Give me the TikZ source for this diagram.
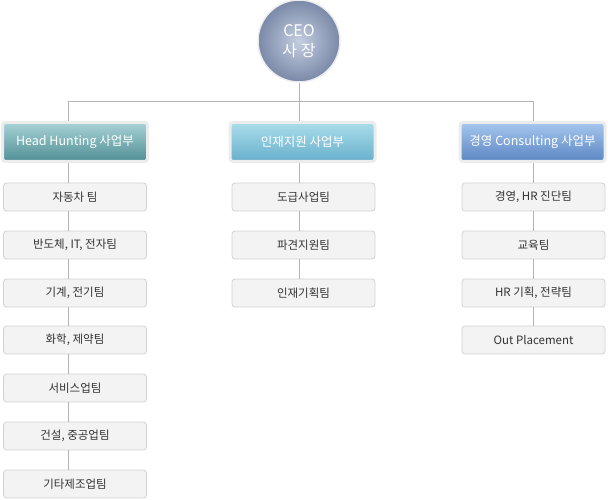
\documentclass[tikz,border=0pt]{standalone}
\usepackage{fontspec}
\setmainfont{Noto Sans CJK KR}
\definecolor{linegray}{HTML}{B4B4B4}
\definecolor{boxfill}{HTML}{F3F3F3}
\definecolor{boxline}{HTML}{D2D2D2}
\definecolor{boxtext}{HTML}{333333}
\definecolor{rimgray}{HTML}{ECECEC}
\definecolor{ceoin}{HTML}{C4CEE0}
\definecolor{ceoout}{HTML}{7A89A8}
\definecolor{hhtop}{HTML}{A9D2D6}
\definecolor{hhbot}{HTML}{4F8F95}
\definecolor{jjtop}{HTML}{AADDEB}
\definecolor{jjbot}{HTML}{68AFCB}
\definecolor{cstop}{HTML}{A6C7EE}
\definecolor{csbot}{HTML}{5B86C3}
\begin{document}
\begin{tikzpicture}[x=1pt, y=-1pt]
    \useasboundingbox (0,0) rectangle (608,500);
    \begin{scope}
        \tikzstyle{every node}=[rounded corners=3pt, font=\fontsize{11.5}{13}\selectfont, inner sep=0pt]
        \tikzstyle{division}=[draw=rimgray, line width=3pt, minimum width=145, minimum height=39, text=white, font=\fontsize{12.5}{14}\selectfont]
        \tikzstyle{team}=[draw=boxline, fill=boxfill, line width=0.8pt, minimum width=143, minimum height=28, text=boxtext]
        \node (ceo) at (299,41) [circle, draw=rimgray, line width=1.5pt, minimum size=82, inner color=ceoin, outer color=ceoout, text=white, align=center, font=\fontsize{16}{20}\selectfont] {CEO\\사 장};
        \node (hh) at (75,142) [division, top color=hhtop, bottom color=hhbot] {Head Hunting 사업부};
        \node (jj) at (302.5,142) [division, top color=jjtop, bottom color=jjbot] {인재지원 사업부};
        \node (cs) at (532.5,142) [division, top color=cstop, bottom color=csbot] {경영 Consulting 사업부};
        \node (hh1) at (75,197) [team] {자동차 팀};
        \node (hh2) at (75,245) [team] {반도체, IT, 전자팀};
        \node (hh3) at (75,293) [team] {기계, 전기팀};
        \node (hh4) at (75,340) [team] {화학, 제약팀};
        \node (hh5) at (75,388) [team] {서비스업팀};
        \node (hh6) at (75,436) [team] {건설, 중공업팀};
        \node (hh7) at (75,484) [team] {기타제조업팀};
        \node (jj1) at (303.5,197) [team] {도급사업팀};
        \node (jj2) at (303.5,245) [team] {파견지원팀};
        \node (jj3) at (303.5,293) [team] {인재기획팀};
        \node (cs1) at (533.5,197) [team] {경영, HR 진단팀};
        \node (cs2) at (533.5,245) [team] {교육팀};
        \node (cs3) at (533.5,293) [team] {HR 기획, 전략팀};
        \node (cs4) at (533.5,340) [team] {Out Placement};
    \end{scope}
    \coordinate (hub) at (299,101);
    \coordinate (hl) at (68,101);
    \coordinate (hr) at (533,101);
    \begin{scope}[draw=linegray, line width=0.8pt]
        % ceo to divisions
        \draw (ceo.south -| hub) -- (hub);
        \draw (hl) -- (hr);
        \draw (hl) -- (hh.north -| hl);
        \draw (hub) -- (jj.north -| hub);
        \draw (hr) -- (cs.north -| hr);
        % head hunting teams
        \draw (hh.south -| hl) -- (hh1.north -| hl);
        \draw (hh1.south -| hl) -- (hh2.north -| hl);
        \draw (hh2.south -| hl) -- (hh3.north -| hl);
        \draw (hh3.south -| hl) -- (hh4.north -| hl);
        \draw (hh4.south -| hl) -- (hh5.north -| hl);
        \draw (hh5.south -| hl) -- (hh6.north -| hl);
        \draw (hh6.south -| hl) -- (hh7.north -| hl);
        % support teams
        \draw (jj.south -| hub) -- (jj1.north -| hub);
        \draw (jj1.south -| hub) -- (jj2.north -| hub);
        \draw (jj2.south -| hub) -- (jj3.north -| hub);
        % consulting teams
        \draw (cs.south -| hr) -- (cs1.north -| hr);
        \draw (cs1.south -| hr) -- (cs2.north -| hr);
        \draw (cs2.south -| hr) -- (cs3.north -| hr);
        \draw (cs3.south -| hr) -- (cs4.north -| hr);
    \end{scope}
\end{tikzpicture}
\end{document}
